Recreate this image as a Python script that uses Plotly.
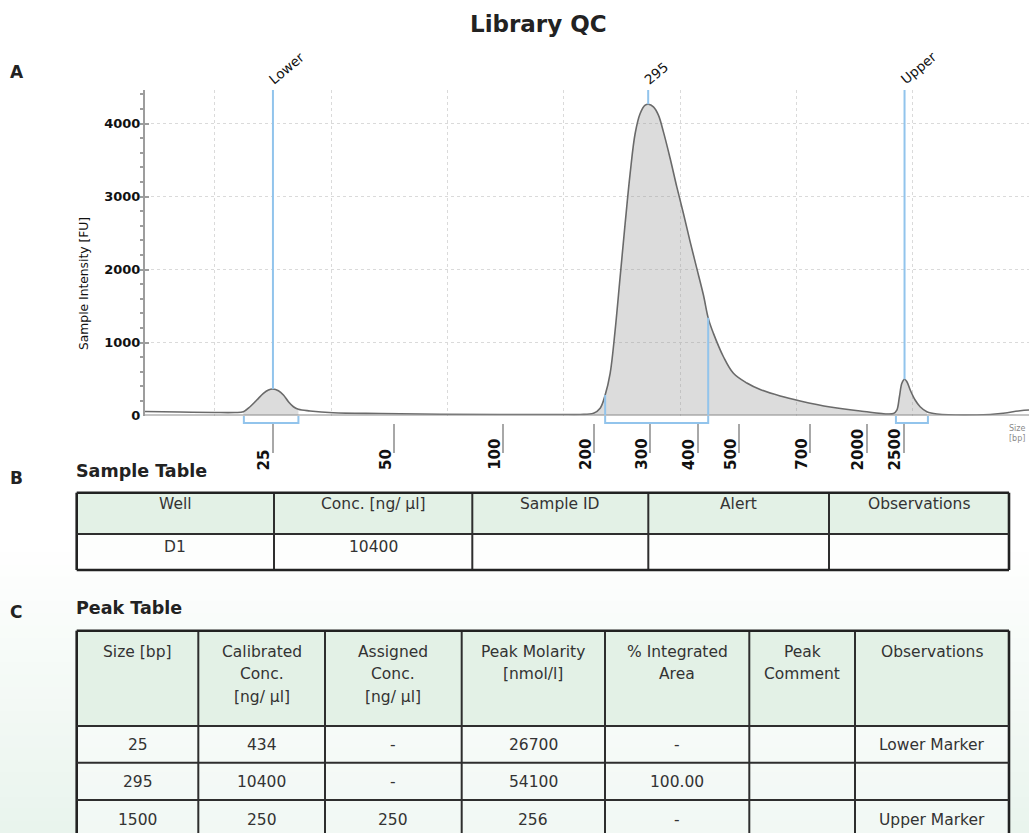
import numpy as np
import plotly.graph_objects as go

# ---------------- electropherogram ----------------
# migration time (s) and fluorescence (FU) of the sample trace
migration_time = [24.0, 27.01, 30.02, 31.74, 32.46, 33.03, 33.61, 34.18, 34.61, 34.99,
                  35.47, 35.90, 36.33, 36.76, 37.19, 38.19, 40.17, 44.22, 49.37, 54.53,
                  59.69, 61.41, 62.56, 63.13, 63.56, 63.99, 64.42, 64.85, 65.28, 65.71,
                  66.14, 66.57, 67.00, 67.28, 67.71, 68.14, 68.57, 69.15, 69.72, 70.29,
                  70.87, 71.44, 72.01, 72.44, 72.87, 73.73, 74.59, 75.74, 76.89, 78.61,
                  80.33, 82.91, 85.49, 88.35, 88.64, 88.86, 89.07, 89.30, 89.50, 89.79,
                  90.21, 90.64, 91.22, 92.08, 95.52, 97.78, 99.24, 100.0]
intensity = [55, 48, 41, 41, 52, 120, 212, 304, 349, 363,
             340, 281, 189, 120, 85, 62, 38, 27, 18, 14,
             14, 14, 30, 99, 281, 578, 1170, 1900, 2631, 3316,
             3863, 4137, 4251, 4264, 4227, 4114, 3885, 3521, 3132, 2768,
             2379, 2015, 1650, 1324, 1125, 805, 578, 445, 356, 267,
             199, 116, 62, 27, 75, 257, 441, 496, 463, 349,
             212, 120, 52, 21, 7, 30, 66, 75]

# size ladder: migration time of each band and its size
ladder_time = [35.0, 45.44, 54.81, 62.64, 67.43, 71.53, 75.11, 81.19, 86.11, 89.29]
ladder_bp = ["25", "50", "100", "200", "300", "400", "500", "700", "2000", "2500"]

# called peaks
peak_names = ["Lower", "295", "Upper"]
peak_time = [35.0, 67.26, 89.3]
peak_start = [32.5, 63.56, 88.56]
peak_end = [37.19, 72.42, 91.31]
shade_start = [32.46, 62.56, 88.35]
shade_end = [37.19, 88.35, 91.22]

# ---------------- tables ----------------
sample_header = ["Well", "Conc. [ng/ µl]", "Sample ID", "Alert", "Observations"]
sample_well = ["D1"]
sample_conc = ["10400"]
sample_id = [""]
sample_alert = [""]
sample_obs = [""]

peak_header = ["Size [bp]", "Calibrated<br>Conc.<br>[ng/ µl]", "Assigned<br>Conc.<br>[ng/ µl]",
               "Peak Molarity<br>[nmol/l]", "% Integrated<br>Area", "Peak<br>Comment", "Observations"]
peak_size = ["25", "295", "1500"]
peak_cal_conc = ["434", "10400", "250"]
peak_assigned = ["-", "-", "250"]
peak_molarity = ["26700", "54100", "256"]
peak_area = ["-", "100.00", "-"]
peak_comment = ["", "", ""]
peak_obs = ["Lower Marker", "", "Upper Marker"]

# ---------------- page geometry ----------------
W, H = 1029, 833
FONT = "DejaVu Sans"
BLUE = "#92c4ec"
AXIS_GREY = "#9d9d9d"
GRID = "#dadada"
Y_TOP = 4459
HEADER_FILL = "#e3f1e6"
TEXT = "#333333"

# table layout (pixels from the top-left corner of the page)
sample_cols_px = [76.7, 274, 472.3, 648.3, 829, 1009]
sample_rows_px = [492.7, 534, 570]
peak_cols_px = [76.7, 198.3, 325, 461.7, 605, 749.3, 855, 1009]
peak_rows_px = [630.7, 726, 762.7, 800, 837]


def fx(px):
    return px / W


def fy(py):
    return 1 - py / H


t = np.array(migration_time)
fu = np.array(intensity)

fig = go.Figure()

# shaded peak areas (translucent so the dotted grid stays visible through them)
for s, e in zip(shade_start, shade_end):
    m = (t >= s) & (t <= e)
    fig.add_trace(go.Scatter(x=t[m], y=fu[m], mode="lines", fill="tozeroy",
                             fillcolor="rgba(150,150,150,0.33)",
                             line=dict(width=0, shape="spline"),
                             hoverinfo="skip", showlegend=False))

# trace line
fig.add_trace(go.Scatter(x=t, y=fu, mode="lines",
                         line=dict(color="#6a6a6a", width=1.6, shape="spline"),
                         showlegend=False))

shapes = []
annotations = []

# soft mint wash behind the lower half of the page
n_bands = 24
for i in range(n_bands):
    k = (i + 0.5) / n_bands
    r = round(255 - 22 * k)
    g = round(255 - 11 * k)
    b = round(255 - 18 * k)
    y0 = 540 + (833 - 540) * i / n_bands
    y1 = 540 + (833 - 540) * (i + 1) / n_bands + 1
    shapes.append(dict(type="rect", xref="paper", yref="paper", layer="below",
                       x0=0, x1=1, y0=fy(y1), y1=fy(y0),
                       fillcolor=f"rgb({r},{g},{b})", line=dict(width=0)))


def add_table(header, columns, cols_px, rows_px, head_first, head_step,
              row_centres, body_fill):
    left, right = cols_px[0], cols_px[-1]
    top, head_bottom, bottom = rows_px[0], rows_px[1], rows_px[-1]
    shapes.append(dict(type="rect", xref="paper", yref="paper", layer="below",
                       x0=fx(left), x1=fx(right), y0=fy(head_bottom), y1=fy(top),
                       fillcolor=HEADER_FILL, line=dict(width=0)))
    shapes.append(dict(type="rect", xref="paper", yref="paper", layer="below",
                       x0=fx(left), x1=fx(right), y0=fy(bottom), y1=fy(head_bottom),
                       fillcolor=body_fill, line=dict(width=0)))
    # grid of cell borders
    for j, cx in enumerate(cols_px):
        outer = j in (0, len(cols_px) - 1)
        shapes.append(dict(type="line", xref="paper", yref="paper",
                           x0=fx(cx), x1=fx(cx), y0=fy(top), y1=fy(bottom),
                           line=dict(color="#222222" if outer else "#2e2e2e",
                                     width=2.6 if outer else 2)))
    for j, ry in enumerate(rows_px):
        outer = j in (0, len(rows_px) - 1)
        shapes.append(dict(type="line", xref="paper", yref="paper",
                           x0=fx(left), x1=fx(right), y0=fy(ry), y1=fy(ry),
                           line=dict(color="#222222" if outer else "#2e2e2e",
                                     width=2.6 if outer else 2)))
    # header text, one annotation per line
    for j, label in enumerate(header):
        cx = (cols_px[j] + cols_px[j + 1]) / 2
        for li, line_text in enumerate(label.split("<br>")):
            annotations.append(dict(x=fx(cx), y=fy(top + head_first + li * head_step),
                                    xref="paper", yref="paper", text=line_text,
                                    showarrow=False, xanchor="center", yanchor="middle",
                                    font=dict(family=FONT, size=15.5, color=TEXT)))
    # body text
    for j, col in enumerate(columns):
        cx = (cols_px[j] + cols_px[j + 1]) / 2
        for ri, val in enumerate(col):
            if val == "":
                continue
            annotations.append(dict(x=fx(cx), y=fy(row_centres[ri]),
                                    xref="paper", yref="paper", text=val,
                                    showarrow=False, xanchor="center", yanchor="middle",
                                    font=dict(family=FONT, size=15.5, color=TEXT)))


add_table(sample_header, [sample_well, sample_conc, sample_id, sample_alert, sample_obs],
          sample_cols_px, sample_rows_px, 11, 0,
          [sample_rows_px[1] + 13], "#fdfefd")
add_table(peak_header, [peak_size, peak_cal_conc, peak_assigned, peak_molarity,
                        peak_area, peak_comment, peak_obs],
          peak_cols_px, peak_rows_px, 21, 22.5,
          [(peak_rows_px[i] + peak_rows_px[i + 1]) / 2 + 1 for i in range(1, 4)],
          "rgba(255,255,255,0.4)")

# baseline of the trace
shapes.append(dict(type="line", xref="paper", yref="y", x0=fx(145), x1=1, y0=0, y1=0,
                   line=dict(color="#8c8c8c", width=2)))

# peak apex markers
apex = np.interp(peak_time, t, fu)
for pt, ah in zip(peak_time, apex):
    shapes.append(dict(type="line", xref="x", yref="y", x0=pt, x1=pt, y0=ah, y1=Y_TOP,
                       line=dict(color=BLUE, width=2)))

# integration limits of the sample peak
for bt in (peak_start[1], peak_end[1]):
    shapes.append(dict(type="line", xref="x", yref="y", x0=bt, x1=bt, y0=0,
                       y1=float(np.interp(bt, t, fu)), line=dict(color=BLUE, width=2)))

# peak range brackets under the baseline
for s, e in zip(peak_start, peak_end):
    shapes.append(dict(type="path", xref="x", yref="paper",
                       path=f"M {s},{fy(416)} L {s},{fy(423)} L {e},{fy(423)} L {e},{fy(416)}",
                       line=dict(color=BLUE, width=2)))

# size labels beside the ladder ticks
for lt, lb in zip(ladder_time, ladder_bp):
    annotations.append(dict(x=lt, xref="x", y=fy(472), yref="paper", text=lb,
                            textangle=-90, showarrow=False, xanchor="right", yanchor="bottom",
                            xshift=2, font=dict(family=FONT, size=15, color="#111111", weight="bold")))

# peak names
for name, pt in zip(peak_names, peak_time):
    annotations.append(dict(x=pt, xref="x", y=fy(90), yref="paper", text=name,
                            textangle=-40, showarrow=False, xanchor="left", yanchor="bottom",
                            xshift=-10, font=dict(family=FONT, size=13.5, color="#111111")))

annotations += [
    dict(x=fx(538.5), y=fy(24), xref="paper", yref="paper", text="<b>Library QC</b>",
         showarrow=False, xanchor="center", yanchor="middle",
         font=dict(family=FONT, size=23, color="#222222")),
    dict(x=fx(84), y=fy(284), xref="paper", yref="paper", text="Sample Intensity [FU]",
         textangle=-90, showarrow=False, xanchor="center", yanchor="middle",
         font=dict(family=FONT, size=12.3, color="#111111")),
    dict(x=fx(1007), y=fy(433), xref="paper", yref="paper", text="Size<br>[bp]",
         showarrow=False, xanchor="left", yanchor="middle",
         font=dict(family=FONT, size=8, color="#8a8a8a")),
    dict(x=fx(8), y=fy(72), xref="paper", yref="paper", text="<b>A</b>",
         showarrow=False, xanchor="left", yanchor="middle",
         font=dict(family=FONT, size=17, color="#222222")),
    dict(x=fx(8), y=fy(478), xref="paper", yref="paper", text="<b>B</b>",
         showarrow=False, xanchor="left", yanchor="middle",
         font=dict(family=FONT, size=17, color="#222222")),
    dict(x=fx(8), y=fy(612), xref="paper", yref="paper", text="<b>C</b>",
         showarrow=False, xanchor="left", yanchor="middle",
         font=dict(family=FONT, size=17, color="#222222")),
    dict(x=fx(74), y=fy(471), xref="paper", yref="paper", text="<b>Sample Table</b>",
         showarrow=False, xanchor="left", yanchor="middle",
         font=dict(family=FONT, size=17.5, color="#222222")),
    dict(x=fx(74), y=fy(608), xref="paper", yref="paper", text="<b>Peak Table</b>",
         showarrow=False, xanchor="left", yanchor="middle",
         font=dict(family=FONT, size=17.5, color="#222222")),
]

fig.update_layout(
    width=W, height=H,
    margin=dict(l=0, r=0, t=0, b=0, autoexpand=False),
    paper_bgcolor="white", plot_bgcolor="rgba(0,0,0,0)",
    showlegend=False,
    font=dict(family=FONT),
    shapes=shapes,
    annotations=annotations,
    xaxis=dict(domain=[fx(145), 1], range=[24, 100], anchor="free", position=fy(423),
               tickmode="array", tickvals=ladder_time, ticks="outside", ticklen=29,
               tickwidth=2, tickcolor="#a8a8a8", showticklabels=False,
               showgrid=False, zeroline=False, showline=False, automargin=False,
               minor=dict(tickmode="linear", tick0=0, dtick=10, ticks="", showgrid=True,
                          gridcolor=GRID, griddash="dot", gridwidth=1)),
    yaxis=dict(domain=[fy(415.5), fy(90)], range=[0, Y_TOP],
               tickmode="array", tickvals=[0, 1000, 2000, 3000, 4000],
               ticks="inside", ticklen=4, tickcolor=AXIS_GREY, tickwidth=1.5,
               showline=True, linecolor=AXIS_GREY, linewidth=2,
               showgrid=True, gridcolor=GRID, griddash="dot", gridwidth=1,
               zeroline=False, automargin=False,
               tickfont=dict(family=FONT, size=13, color="#111111", weight="bold"),
               minor=dict(tickmode="linear", tick0=0, dtick=200, ticks="outside",
                          ticklen=3, tickcolor=AXIS_GREY, showgrid=False)),
)

fig.write_html("out.html")
